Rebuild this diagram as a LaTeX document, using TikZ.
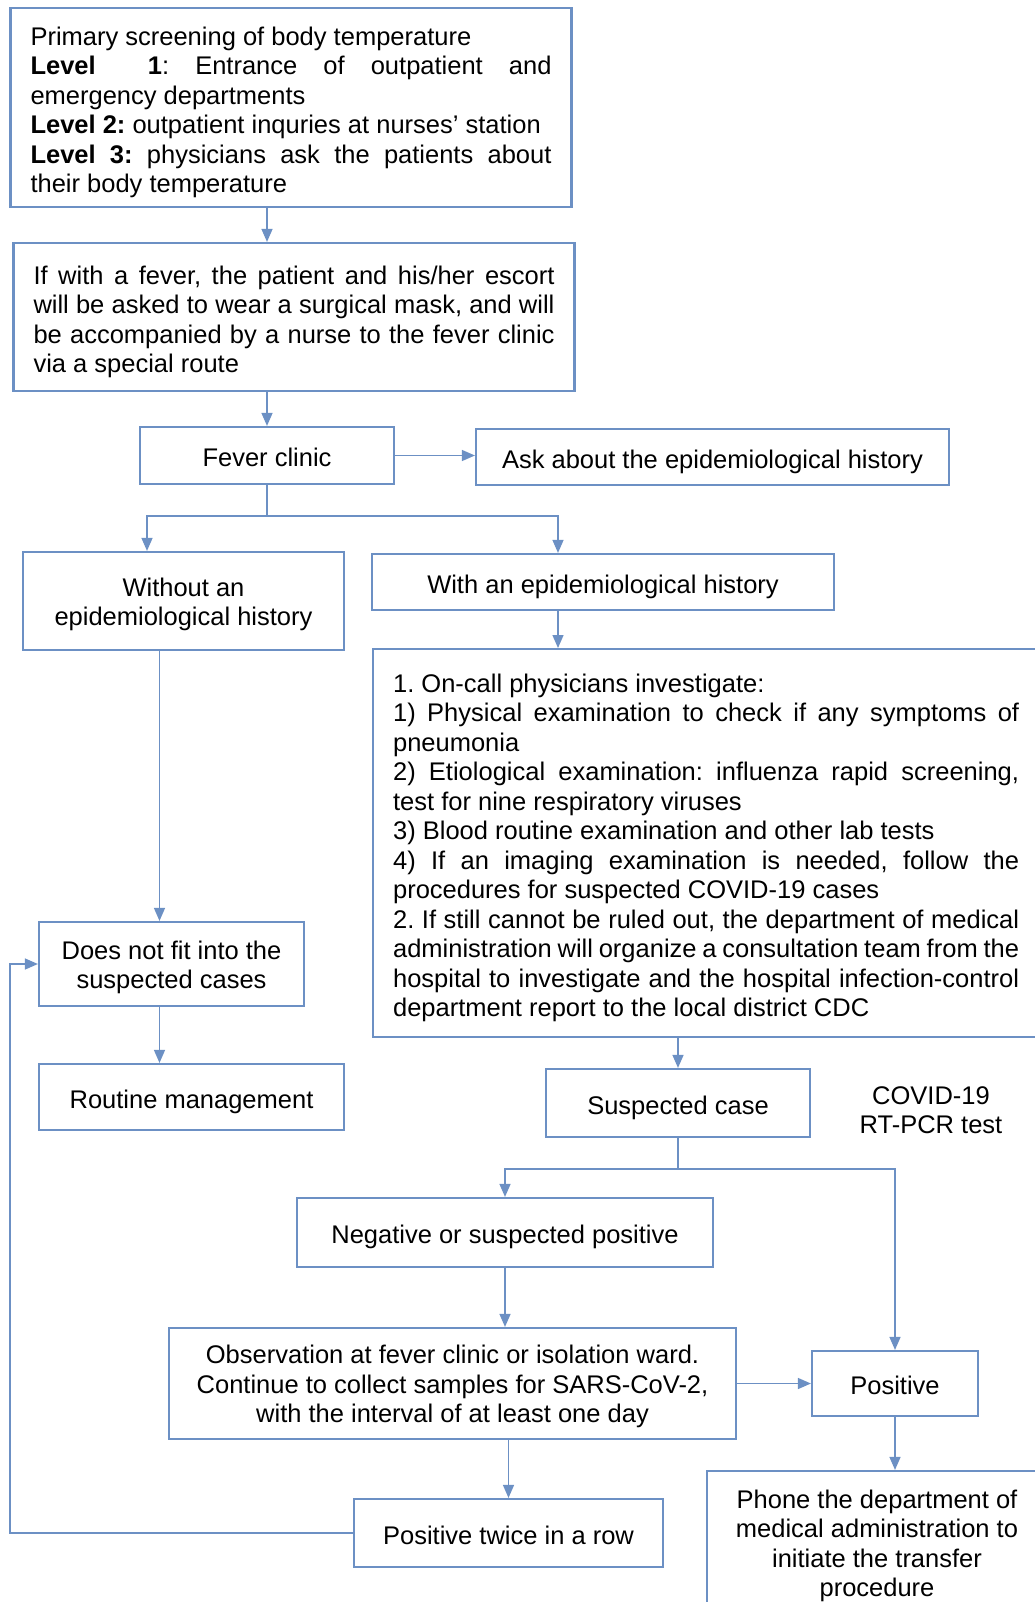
\documentclass[tikz,border=0pt]{standalone}
\usepackage{fontspec}
\setmainfont{Liberation Sans}
\usepackage{tikz}
\usetikzlibrary{arrows.meta,positioning,calc}
\definecolor{boxblue}{RGB}{108,144,196}
\frenchspacing

\begin{document}
\begin{tikzpicture}[
  x=1pt, y=-1pt,
  font=\fontsize{25.5}{29.5}\selectfont,
  >={Triangle[length=13pt, width=11pt]},
  frame/.style={rectangle, draw=boxblue, line width=2.2pt, inner xsep=20pt, inner ysep=5pt,
                align=center},
  box/.style={frame, execute at begin node={\rule[-6pt]{0pt}{34pt}}},
  jbox/.style={box, align=justify},
  tr/.style={->, line width=1.4pt, draw=boxblue},
]
\useasboundingbox (0,0) rectangle (1035,1602);
\fill[white] (0,0) rectangle (1035,1602);
\clip (0,0) rectangle (1035,1602);

\node[jbox, text width=521pt, minimum height=199pt] (scr) at (291,107.5)
  {Primary screening of body temperature\\
   \textbf{Level\ \ 1}: Entrance of outpatient and\linebreak emergency departments\\
   \textbf{Level 2:} outpatient inquries at nurses' station\\
   \textbf{Level 3:} physicians ask the patients about\linebreak their body temperature};
\node[jbox, text width=521pt, minimum height=148pt] (fev) at (294,317)
  {If with a fever, the patient and his/her escort\linebreak will be asked to wear a surgical mask, and will\linebreak be accompanied by a nurse to the fever clinic\linebreak via a special route};
\node[box, minimum width=254pt, minimum height=57pt] (clinic) at (267,455.5) {Fever clinic};
\node[box, minimum width=473pt, minimum height=56pt] (ask) at (712.5,457) {Ask about the epidemiological history};
\node[frame, minimum width=321pt, minimum height=98pt] (noepi) at (183.5,601)
  {\rule{0pt}{25pt}Without an\\epidemiological history};
\node[box, minimum width=462pt, minimum height=56pt] (epi) at (603,582) {With an epidemiological history};
\node[jbox, text width=626pt, minimum height=388pt, anchor=north west] (invest) at (372,648)
  {1. On-call physicians investigate:\\
   1) Physical examination to check if any symptoms of\linebreak pneumonia\\
   2) Etiological examination: influenza rapid screening,\linebreak test for nine respiratory viruses\\
   3) Blood routine examination and other lab tests\\
   4) If an imaging examination is needed, follow the\linebreak procedures for suspected COVID-19 cases\\
   2. If still cannot be ruled out, the department of medical\linebreak administration will organize a consultation team from the\linebreak hospital to investigate and the hospital infection-control\linebreak department report to the local district CDC};
\node[frame, minimum width=265pt, minimum height=84pt] (notfit) at (171.5,964)
  {\rule{0pt}{25pt}Does not fit into the\\suspected cases};
\node[box, minimum width=305pt, minimum height=66pt] (routine) at (191.5,1097) {Routine management};
\node[box, minimum width=264pt, minimum height=68pt] (susp) at (678,1103) {Suspected case};
\node[align=center] (pcr) at (931,1110) {COVID-19\\RT-PCR test};
\node[box, minimum width=416pt, minimum height=69pt] (neg) at (505,1232.5) {Negative or suspected positive};
\node[frame, minimum width=567pt, minimum height=111pt] (obs) at (452.5,1383.5)
  {\rule{0pt}{25pt}Observation at fever clinic or isolation ward.\\Continue to collect samples for SARS-CoV-2,\\with the interval of at least one day};
\node[box, minimum width=166pt, minimum height=65pt] (pos) at (895,1383.5) {Positive};
\node[box, minimum width=309pt, minimum height=68pt] (twice) at (508.5,1533) {Positive twice in a row};
\node[frame, minimum width=340pt, minimum height=143pt] (phone) at (877,1542.5)
  {\rule{0pt}{25pt}Phone the department of\\medical administration to\\initiate the transfer\\procedure};

\coordinate (bl) at (147,516);
\coordinate (br) at (558,516);
\coordinate (nx) at (159.5,0);
\coordinate (lx) at (10,0);

\draw[tr] (scr.south -| clinic) -- (fev.north -| clinic);
\draw[tr] (fev.south -| clinic) -- (clinic.north);
\draw[tr] (clinic.east) -- (clinic.east -| ask.west);
\draw[tr] (clinic.south) |- (bl) -- (bl |- noepi.north);
\draw[tr] (clinic.south) |- (br) -- (br |- epi.north);
\draw[tr] (br |- epi.south) -- (br |- invest.north);
\draw[tr] (noepi.south -| nx) -- (notfit.north -| nx);
\draw[tr] (notfit.south -| nx) -- (routine.north -| nx);
\draw[tr] (susp.north |- invest.south) -- (susp.north);
\draw[tr] (susp.south) -- ++(0,31) -| (neg.north);
\draw[tr] (susp.south) -- ++(0,31) -| (pos.north);
\draw[tr] (neg.south) -- (neg.south |- obs.north);
\draw[tr] (obs.east) -- (pos.west);
\draw[tr] (pos.south) -- (pos.south |- phone.north);
\draw[tr] (twice.north |- obs.south) -- (twice.north);
\draw[tr] (twice.west) -- (twice.west -| lx) |- (notfit.west);

\end{tikzpicture}
\end{document}
